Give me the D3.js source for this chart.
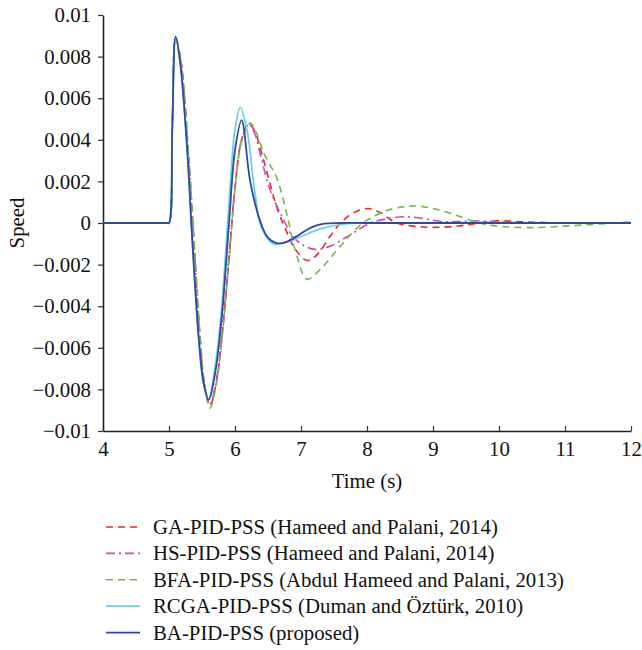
<!DOCTYPE html>
<html>
<head>
<meta charset="utf-8">
<script src="https://cdn.jsdelivr.net/npm/d3@7"></script>
<style>
  body { margin: 0; background: #fff; }
  text { font-family: "Liberation Serif", "DejaVu Serif", serif; fill: #111; }
</style>
</head>
<body>
<div id="chart"></div>
<script>
// series values (time in s, speed deviation)
var gaTime = [4, 4.97, 5.0, 5.05, 5.1, 5.18, 5.28, 5.38, 5.47, 5.54, 5.62, 5.72, 5.82, 5.92, 6.0, 6.1, 6.21, 6.3, 6.4, 6.53, 6.65, 6.78, 6.9, 7.09, 7.25, 7.45, 7.6, 7.8, 8.02, 8.2, 8.45, 8.8, 9.16, 9.5, 9.96, 10.4, 11, 12];
var gaSpeed = [0, 0, 0, 0.0046, 0.0089, 0.0078, 0.0040, -0.0010, -0.0055, -0.0078, -0.0088, -0.0076, -0.0049, -0.0013, 0.0017, 0.0040, 0.00476, 0.0044, 0.0034, 0.0019, 0.0006, -0.0004, -0.0012, -0.0018, -0.0015, -0.0006, 0.0, 0.0005, 0.0007, 0.0005, 0.0, -0.00018, -0.0002, -0.0001, 0.0001, 0.00005, 0, 0];

var hsTime = [4, 4.97, 5.0, 5.05, 5.1, 5.18, 5.28, 5.38, 5.47, 5.54, 5.62, 5.72, 5.82, 5.92, 6.0, 6.1, 6.21, 6.3, 6.4, 6.53, 6.73, 6.88, 7.05, 7.22, 7.45, 7.7, 8.05, 8.3, 8.6, 9.2, 9.6, 10.5, 12];
var hsSpeed = [0, 0, 0, 0.0046, 0.0089, 0.0078, 0.0040, -0.0010, -0.0055, -0.0078, -0.0087, -0.0075, -0.0048, -0.0012, 0.0017, 0.0040, 0.00475, 0.0043, 0.0031, 0.0016, 0.0002, -0.00066, -0.0011, -0.00127, -0.0011, -0.00066, 0.0, 0.0002, 0.0003, 0.00006, 0.0001, 0, 0];

var bfaTime = [4, 4.97, 5.0, 5.05, 5.1, 5.18, 5.28, 5.38, 5.47, 5.54, 5.62, 5.72, 5.82, 5.92, 6.0, 6.1, 6.23, 6.33, 6.43, 6.53, 6.63, 6.78, 6.93, 7.09, 7.3, 7.6, 7.94, 8.3, 8.7, 9.0, 9.26, 9.7, 10.0, 10.47, 11.0, 11.5, 12];
var bfaSpeed = [0, 0, 0, 0.0046, 0.0089, 0.0078, 0.0041, -0.0009, -0.0054, -0.0078, -0.0089, -0.0077, -0.0050, -0.0014, 0.0016, 0.0039, 0.0048, 0.0043, 0.0034, 0.0028, 0.0022, 0.0005, -0.0015, -0.0027, -0.0022, -0.0011, 0.0, 0.0006, 0.00082, 0.0007, 0.00047, 0.0, -0.00015, -0.00022, -0.00015, -0.00005, 0.00005];

var rcgaTime = [4, 4.97, 5.0, 5.05, 5.1, 5.17, 5.27, 5.36, 5.45, 5.52, 5.6, 5.7, 5.8, 5.9, 6.0, 6.08, 6.18, 6.3, 6.4, 6.58, 6.8, 7.0, 7.33, 7.7, 8, 12];
var rcgaSpeed = [0, 0, 0, 0.0046, 0.0089, 0.0077, 0.0038, -0.0012, -0.0056, -0.0077, -0.0085, -0.0069, -0.0040, 0.0005, 0.0045, 0.00556, 0.0045, 0.0015, -0.0002, -0.0010, -0.0009, -0.00065, -0.00025, -0.00003, 0, 0];

var baTime = [4, 4.97, 5.0, 5.05, 5.1, 5.17, 5.27, 5.36, 5.45, 5.52, 5.6, 5.7, 5.8, 5.91, 6.0, 6.1, 6.23, 6.38, 6.5, 6.66, 6.8, 6.98, 7.15, 7.35, 7.6, 8, 12];
var baSpeed = [0, 0, 0, 0.0046, 0.00896, 0.0077, 0.0038, -0.0012, -0.0055, -0.0076, -0.0085, -0.0072, -0.0045, 0.0, 0.0035, 0.00495, 0.0020, 0.0001, -0.0007, -0.00098, -0.00088, -0.00055, -0.00022, -0.00003, 0.0, 0, 0];

var seriesNames = ["GA-PID-PSS (Hameed and Palani, 2014)", "HS-PID-PSS (Hameed and Palani, 2014)", "BFA-PID-PSS (Abdul Hameed and Palani, 2013)", "RCGA-PID-PSS (Duman and Öztürk, 2010)", "BA-PID-PSS (proposed)"];
var xTicks = [4, 5, 6, 7, 8, 9, 10, 11, 12];
var yTicks = [-0.01, -0.008, -0.006, -0.004, -0.002, 0, 0.002, 0.004, 0.006, 0.008, 0.01];

var svgWidth = 642;
var svgHeight = 650;
var margin = { top: 15, left: 103, right: 11, bottom: 219 };
var width = svgWidth - margin.left - margin.right;
var height = svgHeight - margin.top - margin.bottom;
var fontSize = 20.8;

var svg = d3.select("#chart")
  .append("svg")
  .attr("width", svgWidth)
  .attr("height", svgHeight);

var chartGroup = svg.append("g")
  .attr("transform", `translate(${margin.left}, ${margin.top})`);

var xScale = d3.scaleLinear().domain([4, 12]).range([0, width]);
var yScale = d3.scaleLinear().domain([-0.01, 0.01]).range([height, 0]);

// styles per series, same order as the names
var styles = [
  { color: "#e8282e", dash: "7,5", w: 1.6 },
  { color: "#c24fb4", dash: "9,4,2,4", w: 1.6 },
  { color: "#6fbb44", dash: "7,5", w: 1.6 },
  { color: "#6fcfe0", dash: null, w: 1.8 },
  { color: "#2d4a9e", dash: null, w: 1.8 }
];

var series = [
  gaTime.map((t, i) => [t, gaSpeed[i]]),
  hsTime.map((t, i) => [t, hsSpeed[i]]),
  bfaTime.map((t, i) => [t, bfaSpeed[i]]),
  rcgaTime.map((t, i) => [t, rcgaSpeed[i]]),
  baTime.map((t, i) => [t, baSpeed[i]])
];

// axes
var bottomAxis = d3.axisBottom(xScale).tickValues(xTicks).tickSizeInner(-5).tickSizeOuter(0).tickPadding(10).tickFormat(d3.format("d"));
var leftAxis = d3.axisLeft(yScale).tickValues(yTicks).tickSize(5).tickSizeOuter(0).tickPadding(7)
  .tickFormat(d => d === 0 ? "0" : d3.format("")(+d.toFixed(3)).replace("-", "\u2212"));

var gx = chartGroup.append("g")
  .attr("transform", `translate(0, ${height})`)
  .call(bottomAxis);
var gy = chartGroup.append("g").call(leftAxis);

[gx, gy].forEach(g => {
  g.select(".domain").attr("stroke", "#222").attr("stroke-width", 1.6);
  g.selectAll(".tick line").attr("stroke", "#333").attr("stroke-width", 1.2);
  g.selectAll(".tick text").attr("font-size", fontSize).attr("fill", "#111")
    .style("font-family", "'Liberation Serif', serif");
});

var line = d3.line()
  .x(d => xScale(d[0]))
  .y(d => yScale(d[1]))
  .curve(d3.curveCatmullRom.alpha(0.5));

series.forEach((s, i) => {
  chartGroup.append("path")
    .datum(s)
    .attr("fill", "none")
    .attr("stroke", styles[i].color)
    .attr("stroke-width", styles[i].w)
    .attr("stroke-dasharray", styles[i].dash)
    .attr("d", line);
});

chartGroup.append("text")
  .attr("x", width / 2)
  .attr("y", height + 57)
  .attr("text-anchor", "middle")
  .attr("font-size", fontSize)
  .text("Time (s)");

svg.append("text")
  .attr("transform", `translate(24, ${margin.top + yScale(0)}) rotate(-90)`)
  .attr("text-anchor", "middle")
  .attr("font-size", fontSize)
  .text("Speed");

// legend
var legend = svg.append("g").attr("transform", "translate(103, 527)");
seriesNames.forEach((name, i) => {
  var row = legend.append("g").attr("transform", `translate(0, ${i * 26.4})`);
  row.append("line")
    .attr("x1", 3).attr("x2", 37)
    .attr("y1", 0).attr("y2", 0)
    .attr("stroke", styles[i].color)
    .attr("stroke-width", styles[i].w)
    .attr("stroke-dasharray", styles[i].dash);
  row.append("text")
    .attr("x", 50)
    .attr("y", 7)
    .attr("font-size", fontSize)
    .text(name);
});
</script>
</body>
</html>
